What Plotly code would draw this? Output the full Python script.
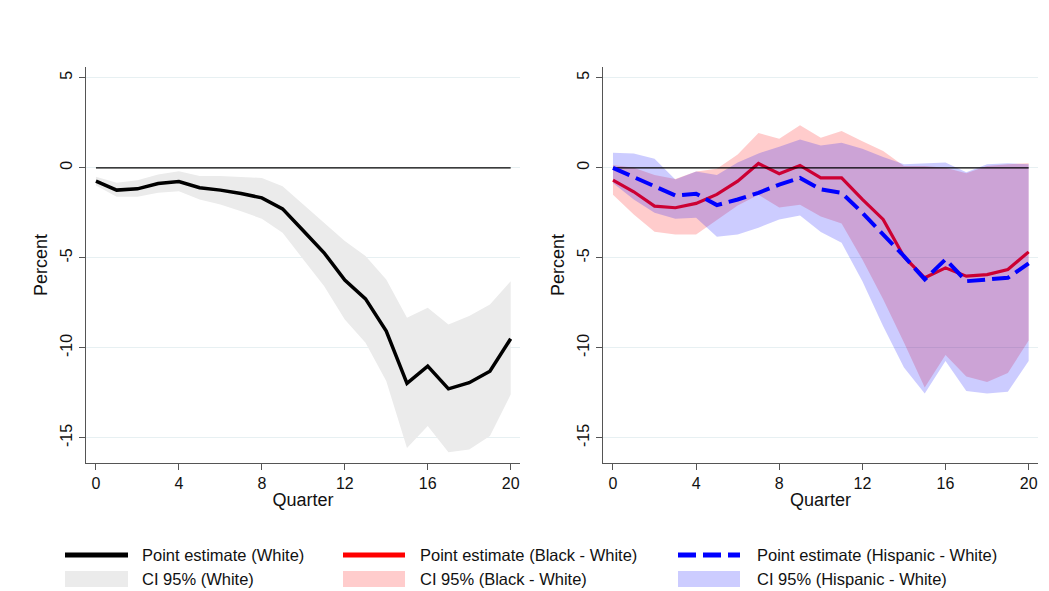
import plotly.graph_objects as go

# Quarters since the shock
quarters = list(range(21))

# White: point estimate and 95% confidence band
white_pe = [-0.74, -1.24, -1.17, -0.87, -0.76, -1.11, -1.24, -1.43, -1.67, -2.28, -3.50,
            -4.72, -6.24, -7.28, -9.07, -11.98, -11.02, -12.28, -11.94, -11.30, -9.50]
white_hi = [-0.50, -0.83, -0.69, -0.37, -0.19, -0.46, -0.46, -0.50, -0.56, -1.02, -2.04,
            -3.06, -4.07, -4.90, -6.20, -8.33, -7.78, -8.70, -8.24, -7.60, -6.30]
white_lo = [-0.98, -1.61, -1.61, -1.39, -1.30, -1.76, -2.04, -2.41, -2.83, -3.61, -5.09,
            -6.57, -8.43, -9.72, -11.85, -15.56, -14.35, -15.80, -15.65, -14.90, -12.60]

# Black - White gap
black_pe = [-0.69, -1.33, -2.13, -2.22, -1.98, -1.48, -0.74, 0.24, -0.33, 0.13, -0.56,
            -0.56, -1.76, -2.87, -4.94, -6.11, -5.56, -6.02, -5.93, -5.65, -4.67]
black_hi = [0.15, 0.00, -0.40, -0.62, -0.20, -0.05, 0.74, 1.94, 1.61, 2.37, 1.67,
            2.04, 1.48, 0.93, 0.10, 0.10, 0.00, -0.30, 0.10, 0.20, 0.25]
black_lo = [-1.50, -2.60, -3.55, -3.70, -3.70, -2.90, -2.10, -1.50, -2.20, -2.05, -2.70,
            -3.10, -5.10, -7.30, -9.70, -12.20, -10.40, -11.60, -11.90, -11.40, -9.60]

# Hispanic - White gap
hisp_pe = [0.00, -0.50, -1.02, -1.54, -1.44, -2.07, -1.76, -1.39, -0.93, -0.56, -1.20,
           -1.39, -2.50, -3.70, -4.91, -6.20, -5.09, -6.30, -6.20, -6.11, -5.31]
hisp_hi = [0.83, 0.80, 0.50, -0.65, -0.20, -0.40, 0.30, 0.80, 1.17, 1.57, 1.24,
           1.39, 1.06, 0.60, 0.20, 0.25, 0.30, -0.25, 0.20, 0.25, 0.20]
hisp_lo = [-0.85, -1.76, -2.50, -2.83, -2.78, -3.83, -3.70, -3.33, -2.87, -2.65, -3.57,
           -4.17, -6.30, -8.80, -11.10, -12.54, -10.74, -12.40, -12.54, -12.44, -10.74]

x_ticks = [0, 4, 8, 12, 16, 20]
y_ticks = [-15, -10, -5, 0, 5]
y_tick_labels = ["-15", "-10", "-5", "0", "5"]

legend_labels = [
    ["Point estimate (White)", "CI 95% (White)"],
    ["Point estimate (Black - White)", "CI 95% (Black - White)"],
    ["Point estimate (Hispanic - White)", "CI 95% (Hispanic - White)"],
]

W, H = 1049, 591
FONT = "Liberation Sans, Arial, sans-serif"
AXIS_GREY = "#555555"
BLUE_DASH = "18px,7px"


def fx(p):
    return p / W


def fy(p):
    return 1 - p / H


def band(x, hi, lo, color, xa, ya):
    return go.Scatter(x=list(x) + list(x)[::-1], y=list(hi) + list(lo)[::-1],
                      fill="toself", fillcolor=color, line=dict(width=0),
                      mode="lines", hoverinfo="skip", showlegend=False,
                      xaxis=xa, yaxis=ya)


fig = go.Figure()

# Left panel: White
fig.add_trace(band(quarters, white_hi, white_lo, "#ebebeb", "x", "y"))
fig.add_trace(go.Scatter(x=[quarters[0], quarters[-1]], y=[0, 0], mode="lines",
                         line=dict(color="black", width=1.3), showlegend=False,
                         xaxis="x", yaxis="y"))
fig.add_trace(go.Scatter(x=quarters, y=white_pe, mode="lines",
                         line=dict(color="black", width=3.5), showlegend=False,
                         xaxis="x", yaxis="y"))

# Right panel: gaps relative to White
fig.add_trace(band(quarters, black_hi, black_lo, "rgba(255,0,0,0.2)", "x2", "y2"))
fig.add_trace(go.Scatter(x=quarters, y=black_pe, mode="lines",
                         line=dict(color="#ff0000", width=3.2), showlegend=False,
                         xaxis="x2", yaxis="y2"))
fig.add_trace(band(quarters, hisp_hi, hisp_lo, "rgba(0,0,255,0.2)", "x2", "y2"))
fig.add_trace(go.Scatter(x=[quarters[0], quarters[-1]], y=[0, 0], mode="lines",
                         line=dict(color="black", width=1.3), showlegend=False,
                         xaxis="x2", yaxis="y2"))
fig.add_trace(go.Scatter(x=quarters, y=hisp_pe, mode="lines",
                         line=dict(color="#0000ff", width=4, dash=BLUE_DASH),
                         showlegend=False, xaxis="x2", yaxis="y2"))

x_common = dict(range=[-0.48, 20.45], tickvals=x_ticks, ticks="outside", ticklen=6,
                tickcolor=AXIS_GREY, tickwidth=1.3, showline=True, linecolor=AXIS_GREY,
                linewidth=1.3, showgrid=False, zeroline=False, automargin=False,
                tickfont=dict(size=16, color="#111", family=FONT),
                title=dict(text="Quarter", font=dict(size=18, color="#111", family=FONT),
                           standoff=2))
y_common = dict(range=[-16.4, 5.6], tickvals=y_ticks, ticktext=y_tick_labels,
                tickangle=-90, ticks="outside",
                ticklen=6, tickcolor=AXIS_GREY, tickwidth=1.3, showline=True,
                linecolor=AXIS_GREY, linewidth=1.3, showgrid=True, gridcolor="#e7f0f2",
                gridwidth=1, zeroline=False, automargin=False,
                tickfont=dict(size=16, color="#111", family=FONT),
                title=dict(text="Percent", font=dict(size=18, color="#111", family=FONT),
                           standoff=6))

y_dom = [fy(463), fy(67)]
fig.update_layout(
    width=W, height=H,
    margin=dict(l=0, r=0, t=0, b=0),
    paper_bgcolor="white", plot_bgcolor="white",
    font=dict(family=FONT, color="#111"),
    showlegend=False,
    xaxis=dict(domain=[fx(86), fx(520)], anchor="y", **x_common),
    yaxis=dict(domain=y_dom, anchor="x", **y_common),
    xaxis2=dict(domain=[fx(603), fx(1038)], anchor="y2", **x_common),
    yaxis2=dict(domain=y_dom, anchor="x2", **y_common),
)

# Legend block below the panels: three columns, two rows
col_x = [(65, 128, 140), (343, 405, 418), (678, 740, 755)]
line_styles = [dict(color="black", width=5),
               dict(color="#ff0000", width=5),
               dict(color="#0000ff", width=5, dash=BLUE_DASH)]
fill_colors = ["#ebebeb", "#ffcccc", "#ccccff"]
row_line_y, row_fill_y = 555, 579

for (x0, x1, tx), ls, fc, labels in zip(col_x, line_styles, fill_colors, legend_labels):
    fig.add_shape(type="line", xref="paper", yref="paper",
                  x0=fx(x0), x1=fx(x1), y0=fy(row_line_y), y1=fy(row_line_y), line=ls)
    fig.add_shape(type="rect", xref="paper", yref="paper",
                  x0=fx(x0), x1=fx(x1), y0=fy(row_fill_y + 8), y1=fy(row_fill_y - 8),
                  fillcolor=fc, line=dict(width=0))
    for text, yy in zip(labels, [row_line_y, row_fill_y]):
        fig.add_annotation(text=text, xref="paper", yref="paper", x=fx(tx), y=fy(yy),
                           xanchor="left", yanchor="middle", showarrow=False,
                           font=dict(size=16.5, color="#111", family=FONT))

fig.write_html("out.html")
